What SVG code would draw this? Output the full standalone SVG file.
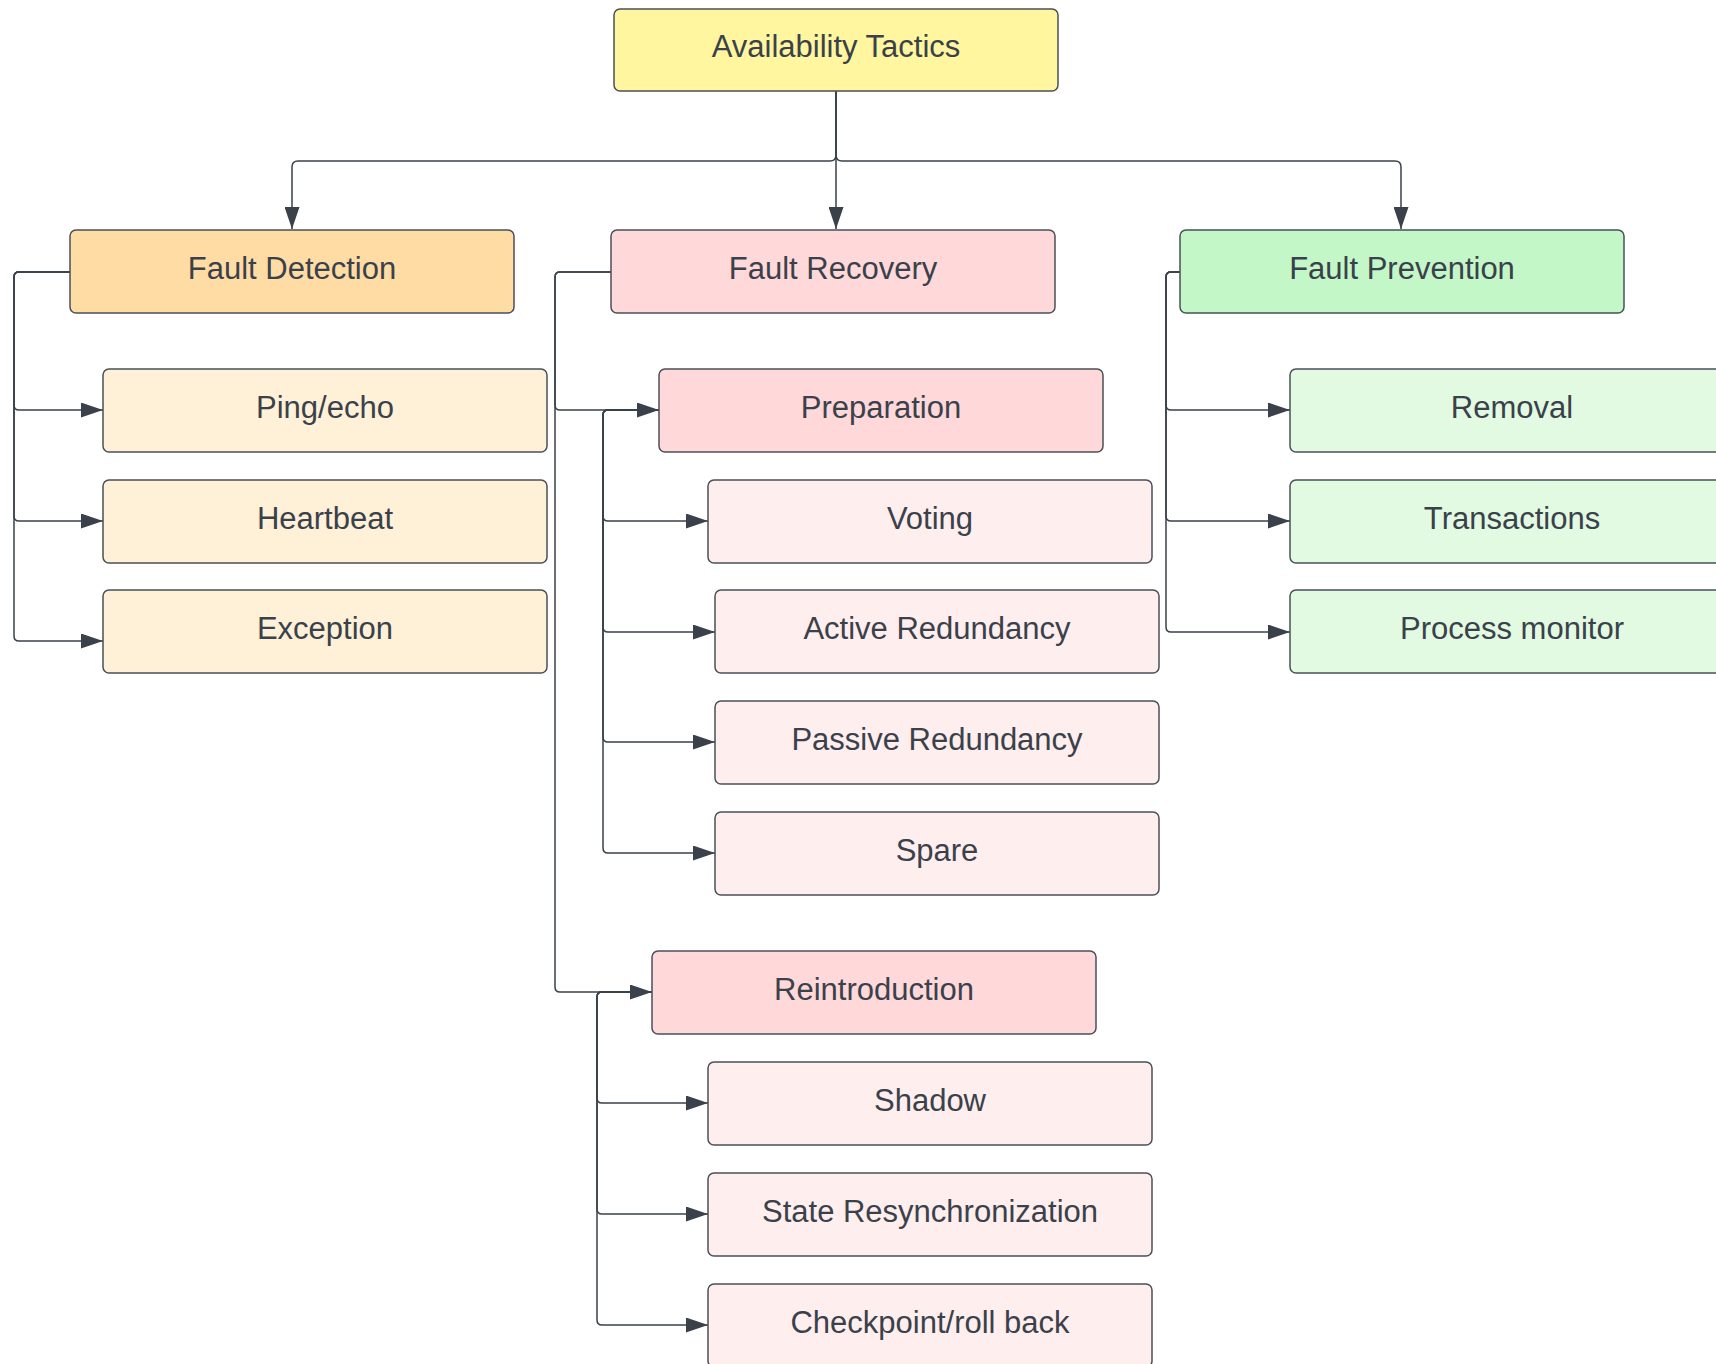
<svg xmlns="http://www.w3.org/2000/svg" width="1716" height="1364" viewBox="0 0 1716 1364">
<defs>
<marker id="ah" viewBox="0 0 22 15" refX="22" refY="7.5" markerWidth="22" markerHeight="15" markerUnits="userSpaceOnUse" orient="auto">
<path d="M0,0 L22,7.5 L0,15 Z" fill="#3a414a"/>
</marker>
<style>
rect{stroke:#4a5059;stroke-width:1.5}
.t{font-family:"Liberation Sans",Arial,sans-serif;font-size:31px;fill:#3a414a;text-anchor:middle}
.e path{fill:none;stroke:#3a414a;stroke-width:1.5;marker-end:url(#ah)}
.root{fill:#fff69f}
.det{fill:#ffdca4}
.detc{fill:#fff1d7}
.rec{fill:#ffd8da}
.recc{fill:#ffeeee}
.pre{fill:#c3f7c8}
.prec{fill:#e2fae2}
</style>
</defs>
<rect width="1716" height="1364" fill="#ffffff" style="stroke:none"/>
<g class="e" id="connectors">
<path d="M836,91 V229"/>
<path d="M836,91 V155 Q836,161 830,161 H298 Q292,161 292,167 V229"/>
<path d="M836,91 V155 Q836,161 842,161 H1395 Q1401,161 1401,167 V229"/>
<path d="M70,272 H19 Q14,272 14,277 V405 Q14,410 19,410 H103"/>
<path d="M70,272 H19 Q14,272 14,277 V516 Q14,521 19,521 H103"/>
<path d="M70,272 H19 Q14,272 14,277 V636 Q14,641 19,641 H103"/>
<path d="M611,272 H560 Q555,272 555,277 V405 Q555,410 560,410 H659"/>
<path d="M611,272 H560 Q555,272 555,277 V987 Q555,992 560,992 H652"/>
<path d="M659,410 H608 Q603,410 603,415 V516 Q603,521 608,521 H708"/>
<path d="M659,410 H608 Q603,410 603,415 V627 Q603,632 608,632 H715"/>
<path d="M659,410 H608 Q603,410 603,415 V737 Q603,742 608,742 H715"/>
<path d="M659,410 H608 Q603,410 603,415 V848 Q603,853 608,853 H715"/>
<path d="M652,992 H602 Q597,992 597,997 V1098 Q597,1103 602,1103 H708"/>
<path d="M652,992 H602 Q597,992 597,997 V1209 Q597,1214 602,1214 H708"/>
<path d="M652,992 H602 Q597,992 597,997 V1320 Q597,1325 602,1325 H708"/>
<path d="M1180,272 H1171 Q1166,272 1166,277 V405 Q1166,410 1171,410 H1290"/>
<path d="M1180,272 H1171 Q1166,272 1166,277 V516 Q1166,521 1171,521 H1290"/>
<path d="M1180,272 H1171 Q1166,272 1166,277 V627 Q1166,632 1171,632 H1290"/>
</g>
<g id="n-root"><rect class="root" x="614" y="9" width="444" height="82" rx="6"/><text class="t" x="836" y="57">Availability Tactics</text></g>
<g id="n-fd"><rect class="det" x="70" y="230" width="444" height="83" rx="6"/><text class="t" x="292" y="279">Fault Detection</text></g>
<g id="n-fr"><rect class="rec" x="611" y="230" width="444" height="83" rx="6"/><text class="t" x="833" y="279">Fault Recovery</text></g>
<g id="n-fp"><rect class="pre" x="1180" y="230" width="444" height="83" rx="6"/><text class="t" x="1402" y="279">Fault Prevention</text></g>
<g id="n-ping"><rect class="detc" x="103" y="369" width="444" height="83" rx="6"/><text class="t" x="325" y="418">Ping/echo</text></g>
<g id="n-heart"><rect class="detc" x="103" y="480" width="444" height="83" rx="6"/><text class="t" x="325" y="529">Heartbeat</text></g>
<g id="n-exc"><rect class="detc" x="103" y="590" width="444" height="83" rx="6"/><text class="t" x="325" y="639">Exception</text></g>
<g id="n-prep"><rect class="rec" x="659" y="369" width="444" height="83" rx="6"/><text class="t" x="881" y="418">Preparation</text></g>
<g id="n-vote"><rect class="recc" x="708" y="480" width="444" height="83" rx="6"/><text class="t" x="930" y="529">Voting</text></g>
<g id="n-active"><rect class="recc" x="715" y="590" width="444" height="83" rx="6"/><text class="t" x="937" y="639">Active Redundancy</text></g>
<g id="n-passive"><rect class="recc" x="715" y="701" width="444" height="83" rx="6"/><text class="t" x="937" y="750">Passive Redundancy</text></g>
<g id="n-spare"><rect class="recc" x="715" y="812" width="444" height="83" rx="6"/><text class="t" x="937" y="861">Spare</text></g>
<g id="n-reint"><rect class="rec" x="652" y="951" width="444" height="83" rx="6"/><text class="t" x="874" y="1000">Reintroduction</text></g>
<g id="n-shadow"><rect class="recc" x="708" y="1062" width="444" height="83" rx="6"/><text class="t" x="930" y="1111">Shadow</text></g>
<g id="n-state"><rect class="recc" x="708" y="1173" width="444" height="83" rx="6"/><text class="t" x="930" y="1222">State Resynchronization</text></g>
<g id="n-check"><rect class="recc" x="708" y="1284" width="444" height="83" rx="6"/><text class="t" x="930" y="1333">Checkpoint/roll back</text></g>
<g id="n-removal"><rect class="prec" x="1290" y="369" width="444" height="83" rx="6"/><text class="t" x="1512" y="418">Removal</text></g>
<g id="n-trans"><rect class="prec" x="1290" y="480" width="444" height="83" rx="6"/><text class="t" x="1512" y="529">Transactions</text></g>
<g id="n-proc"><rect class="prec" x="1290" y="590" width="444" height="83" rx="6"/><text class="t" x="1512" y="639">Process monitor</text></g>
</svg>
